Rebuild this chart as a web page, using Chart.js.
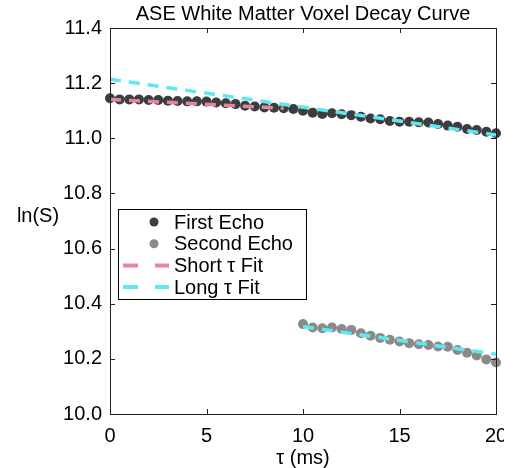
<!DOCTYPE html>
<html>
<head>
<meta charset="utf-8">
<script src="https://cdn.jsdelivr.net/npm/chart.js@4.4.1/dist/chart.umd.min.js"></script>
<style>
  html, body { margin: 0; padding: 0; background: #fff; }
  canvas { display: block; }
</style>
</head>
<body>
<canvas id="decay" width="504" height="468"></canvas>
<script>
// echo times (ms) and log signal for each echo
const tau1 = [0, 0.5, 1, 1.5, 2, 2.5, 3, 3.5, 4, 4.5, 5, 5.5, 6, 6.5, 7, 7.5, 8, 8.5, 9, 9.5,
              10, 10.5, 11, 11.5, 12, 12.5, 13, 13.5, 14, 14.5, 15, 15.5, 16, 16.5, 17, 17.5,
              18, 18.5, 19, 19.5, 20];
const firstEcho = [11.145, 11.141, 11.141, 11.141, 11.139, 11.139, 11.136, 11.135, 11.134, 11.134,
                   11.133, 11.130, 11.127, 11.124, 11.118, 11.115, 11.112, 11.111, 11.109, 11.106,
                   11.100, 11.093, 11.088, 11.091, 11.087, 11.084, 11.078, 11.072, 11.069, 11.063,
                   11.060, 11.060, 11.058, 11.057, 11.052, 11.046, 11.042, 11.034, 11.030, 11.024,
                   11.018];
const tau2 = [10, 10.5, 11, 11.5, 12, 12.5, 13, 13.5, 14, 14.5, 15, 15.5, 16, 16.5, 17, 17.5,
              18, 18.5, 19, 19.5, 20];
const secondEcho = [10.326, 10.314, 10.311, 10.314, 10.308, 10.305, 10.293, 10.284, 10.276, 10.269,
                    10.263, 10.257, 10.253, 10.250, 10.245, 10.244, 10.232, 10.222, 10.212, 10.198,
                    10.187];

// fitted lines, end points only
const shortFitTau = [0, 9];
const shortFitLn = [11.141, 11.109];
const longFitTau = [0, 20];
const longFitLn = [11.214, 11.012];
const longFit2Tau = [10, 20];
const longFit2Ln = [10.317, 10.217];

const xTicks = [0, 5, 10, 15, 20];
const yTicks = [10.0, 10.2, 10.4, 10.6, 10.8, 11.0, 11.2, 11.4];

const DARK = "rgb(60, 61, 64)";
const GREY = "rgb(138, 138, 138)";
const PINK = "rgb(229, 135, 156)";
const CYAN = "rgb(94, 233, 238)";
const FRAME = "#222";
const FONT = "'Liberation Sans', Arial, sans-serif";

Chart.defaults.font.family = FONT;
Chart.defaults.font.size = 20;
Chart.defaults.color = "#000";

const pts = (xs, ys) => xs.map((x, i) => ({ x: x, y: ys[i] }));

function echoSet(label, xs, ys, color) {
  return {
    label: label,
    data: pts(xs, ys),
    showLine: false,
    pointRadius: 5,
    pointHoverRadius: 5,
    pointBackgroundColor: color,
    pointBorderWidth: 0,
    backgroundColor: color,
    borderColor: color,
    clip: false,
    order: 2
  };
}

function fitSet(label, xs, ys, color) {
  return {
    label: label,
    data: pts(xs, ys),
    showLine: true,
    borderColor: color,
    backgroundColor: color,
    borderWidth: 3.5,
    borderDash: [11, 8],
    pointRadius: 0,
    clip: false,
    order: 1
  };
}

const datasets = [
  echoSet("First Echo", tau1, firstEcho, DARK),
  echoSet("Second Echo", tau2, secondEcho, GREY),
  fitSet("Short \u03c4 Fit", shortFitTau, shortFitLn, PINK),
  fitSet("Long \u03c4 Fit", longFitTau, longFitLn, CYAN),
  fitSet("", longFit2Tau, longFit2Ln, CYAN)
];

// frame, inward ticks, titles and the boxed legend
const decorations = {
  id: "decorations",
  afterDraw(chart) {
    const { ctx, chartArea: a, scales: { x, y } } = chart;
    ctx.save();
    ctx.strokeStyle = FRAME;
    ctx.lineWidth = 1;
    ctx.strokeRect(a.left + 0.5, a.top + 0.5, a.right - a.left, a.bottom - a.top);

    ctx.beginPath();
    xTicks.forEach(v => {
      const px = Math.round(x.getPixelForValue(v)) + 0.5;
      ctx.moveTo(px, a.bottom); ctx.lineTo(px, a.bottom - 5);
      ctx.moveTo(px, a.top); ctx.lineTo(px, a.top + 5);
    });
    yTicks.forEach(v => {
      const py = Math.round(y.getPixelForValue(v)) + 0.5;
      ctx.moveTo(a.left, py); ctx.lineTo(a.left + 5, py);
      ctx.moveTo(a.right, py); ctx.lineTo(a.right - 5, py);
    });
    ctx.stroke();

    ctx.fillStyle = "#000";
    ctx.font = "20px " + FONT;
    ctx.textBaseline = "middle";
    ctx.textAlign = "center";
    ctx.fillText("ASE White Matter Voxel Decay Curve", (a.left + a.right) / 2, 14);
    ctx.fillText("\u03c4 (ms)", (a.left + a.right) / 2, 458);
    ctx.fillText("ln(S)", 38, 216);

    // legend
    const box = { left: 118, top: 209, width: 188, height: 90 };
    ctx.fillStyle = "#fff";
    ctx.fillRect(box.left, box.top, box.width, box.height);
    ctx.strokeStyle = "#000";
    ctx.strokeRect(box.left + 0.5, box.top + 0.5, box.width, box.height);

    const entries = chart.data.datasets.filter(d => d.label);
    entries.forEach((d, i) => {
      const cy = box.top + 13 + i * 21.7;
      if (d.showLine) {
        ctx.strokeStyle = d.borderColor;
        ctx.lineWidth = 4;
        ctx.setLineDash([15, 17]);
        ctx.beginPath();
        ctx.moveTo(123, cy); ctx.lineTo(169, cy);
        ctx.stroke();
        ctx.setLineDash([]);
      } else {
        ctx.fillStyle = d.pointBackgroundColor;
        ctx.beginPath();
        ctx.arc(154, cy, 4.5, 0, Math.PI * 2);
        ctx.fill();
      }
      ctx.fillStyle = "#000";
      ctx.textAlign = "left";
      ctx.fillText(d.label, 174, cy + 1);
    });
    ctx.restore();
  }
};

new Chart(document.getElementById("decay"), {
  type: "scatter",
  data: { datasets: datasets },
  options: {
    responsive: false,
    animation: false,
    layout: { padding: { left: 0, right: 8, top: 28, bottom: 0 } },
    plugins: { legend: { display: false }, tooltip: { enabled: false } },
    scales: {
      x: {
        type: "linear",
        min: 0,
        max: 20,
        afterBuildTicks: scale => { scale.ticks = xTicks.map(v => ({ value: v })); },
        afterFit: scale => {
          scale.height = 54;
          scale.paddingLeft = 0;
          scale.paddingRight = 0;
        },
        ticks: { padding: 10, maxRotation: 0, autoSkip: false, color: "#000" },
        grid: { display: false, drawTicks: false },
        border: { display: false }
      },
      y: {
        type: "linear",
        min: 10,
        max: 11.4,
        afterBuildTicks: scale => { scale.ticks = yTicks.map(v => ({ value: v })); },
        afterFit: scale => { scale.width = 110; },
        ticks: { padding: 8, color: "#000", callback: v => v.toFixed(1) },
        grid: { display: false, drawTicks: false },
        border: { display: false }
      }
    }
  },
  plugins: [decorations]
});
</script>
</body>
</html>
